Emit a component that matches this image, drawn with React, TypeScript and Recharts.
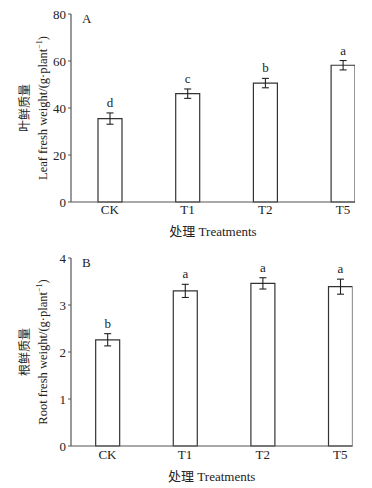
import React from 'react';
import { BarChart, Bar, XAxis, YAxis, ErrorBar, LabelList, Label } from 'recharts';

const categories = ['CK', 'T1', 'T2', 'T5'];
const positions = [1, 2, 3, 4];

const leafMeans = [35.5, 46.1, 50.6, 58.2];
const leafErr = [2.4, 2.0, 2.0, 2.0];
const leafLetters = ['d', 'c', 'b', 'a'];
const leafTicks = [0, 20, 40, 60, 80];

const rootMeans = [2.26, 3.3, 3.46, 3.39];
const rootErr = [0.13, 0.14, 0.12, 0.16];
const rootLetters = ['b', 'a', 'a', 'a'];
const rootTicks = [0, 1, 2, 3, 4];

const FONT = "'Liberation Serif', 'Noto Sans CJK SC', serif";
const INK = '#222';

const leafData = categories.map((c, i) => ({
  x: positions[i], name: c, mean: leafMeans[i], err: leafErr[i], sig: leafLetters[i],
}));
const rootData = categories.map((c, i) => ({
  x: positions[i], name: c, mean: rootMeans[i], err: rootErr[i], sig: rootLetters[i],
}));

const makeLetter = (data: any[]) => (props: any) => {
  const { x, y, width, height, index, value } = props;
  const d = data[index];
  if (!d) return null;
  const pxPerUnit = Number(height) / d.mean;
  const top = Number(y) - d.err * pxPerUnit - 6;
  return (
    <text x={Number(x) + Number(width) / 2} y={top} textAnchor="middle" fontSize={13} fill={INK} fontFamily={FONT}>
      {value}
    </text>
  );
};

const makeYLabel = (cn: string, en: string, panel: string) => (props: any) => {
  const vb = props.viewBox || {};
  const cy = vb.y + vb.height / 2;
  const right = vb.x + vb.width;
  const cnX = right - 46;
  const enX = right - 28;
  return (
    <g fontFamily={FONT} fill={INK}>
      <text x={cnX} y={cy} transform={`rotate(-90 ${cnX} ${cy})`} textAnchor="middle" dominantBaseline="central" fontSize={12}>
        {cn}
      </text>
      <text x={enX} y={cy} transform={`rotate(-90 ${enX} ${cy})`} textAnchor="middle" dominantBaseline="central" fontSize={12.5}>
        {en}
        <tspan fontSize={8} dy={-4}>−1</tspan>
        <tspan dy={4}>)</tspan>
      </text>
      <text x={right + 11} y={vb.y + 4} dominantBaseline="central" fontSize={13}>
        {panel}
      </text>
    </g>
  );
};

const tickStyle = { fontSize: 13, fill: INK, fontFamily: FONT };

function Panel(props: {
  data: any[]; domainY: number[]; ticksY: number[]; xDomain: number[];
  top: number; height: number; margin: any; xHeight: number; tickMargin: number;
  cn: string; en: string; panel: string;
}) {
  const { data, domainY, ticksY, xDomain, top, height, margin, xHeight, tickMargin, cn, en, panel } = props;
  return (
    <div style={{ position: 'absolute', left: 0, top, width: 372, height }}>
      <BarChart width={372} height={height} data={data} margin={margin} barSize={24}>
        <XAxis
          type="number"
          dataKey="x"
          domain={xDomain}
          ticks={positions}
          allowDataOverflow
          tickFormatter={(v: number) => categories[v - 1] ?? ''}
          tick={tickStyle}
          tickLine={false}
          tickSize={0}
          tickMargin={tickMargin}
          height={xHeight}
          axisLine={{ stroke: '#555', strokeWidth: 1.2 }}
        >
          <Label value="处理 Treatments" position="insideBottom" offset={2} style={{ fontSize: 13, fill: INK, fontFamily: FONT }} />
        </XAxis>
        <YAxis
          type="number"
          domain={domainY}
          ticks={ticksY}
          width={71}
          tick={tickStyle}
          tickSize={3}
          tickMargin={2}
          tickLine={{ stroke: '#555' }}
          axisLine={{ stroke: '#555', strokeWidth: 1.2 }}
        >
          <Label content={makeYLabel(cn, en, panel)} />
        </YAxis>
        <Bar dataKey="mean" fill="#fff" stroke="#333" strokeWidth={1.2} isAnimationActive={false}>
          <ErrorBar dataKey="err" direction="y" width={3.5} stroke={INK} strokeWidth={1.1} />
          <LabelList dataKey="sig" content={makeLetter(data)} />
        </Bar>
      </BarChart>
    </div>
  );
}

export default function App() {
  return (
    <div style={{ position: 'absolute', left: 0, top: 0, width: 372, height: 488, background: '#fff' }}>
      <Panel
        data={leafData}
        domainY={[0, 80]}
        ticksY={leafTicks}
        xDomain={[0.5, 4.155]}
        top={0}
        height={240}
        margin={{ top: 14, right: 17, left: 0, bottom: 2 }}
        xHeight={36}
        tickMargin={3}
        cn="叶鲜质量"
        en="Leaf fresh weight/(g·plant"
        panel="A"
      />
      <Panel
        data={rootData}
        domainY={[0, 4]}
        ticksY={rootTicks}
        xDomain={[0.53, 4.157]}
        top={240}
        height={248}
        margin={{ top: 18, right: 19.5, left: 0, bottom: 5 }}
        xHeight={37}
        tickMargin={4}
        cn="根鲜质量"
        en="Root fresh weight/(g·plant"
        panel="B"
      />
    </div>
  );
}
